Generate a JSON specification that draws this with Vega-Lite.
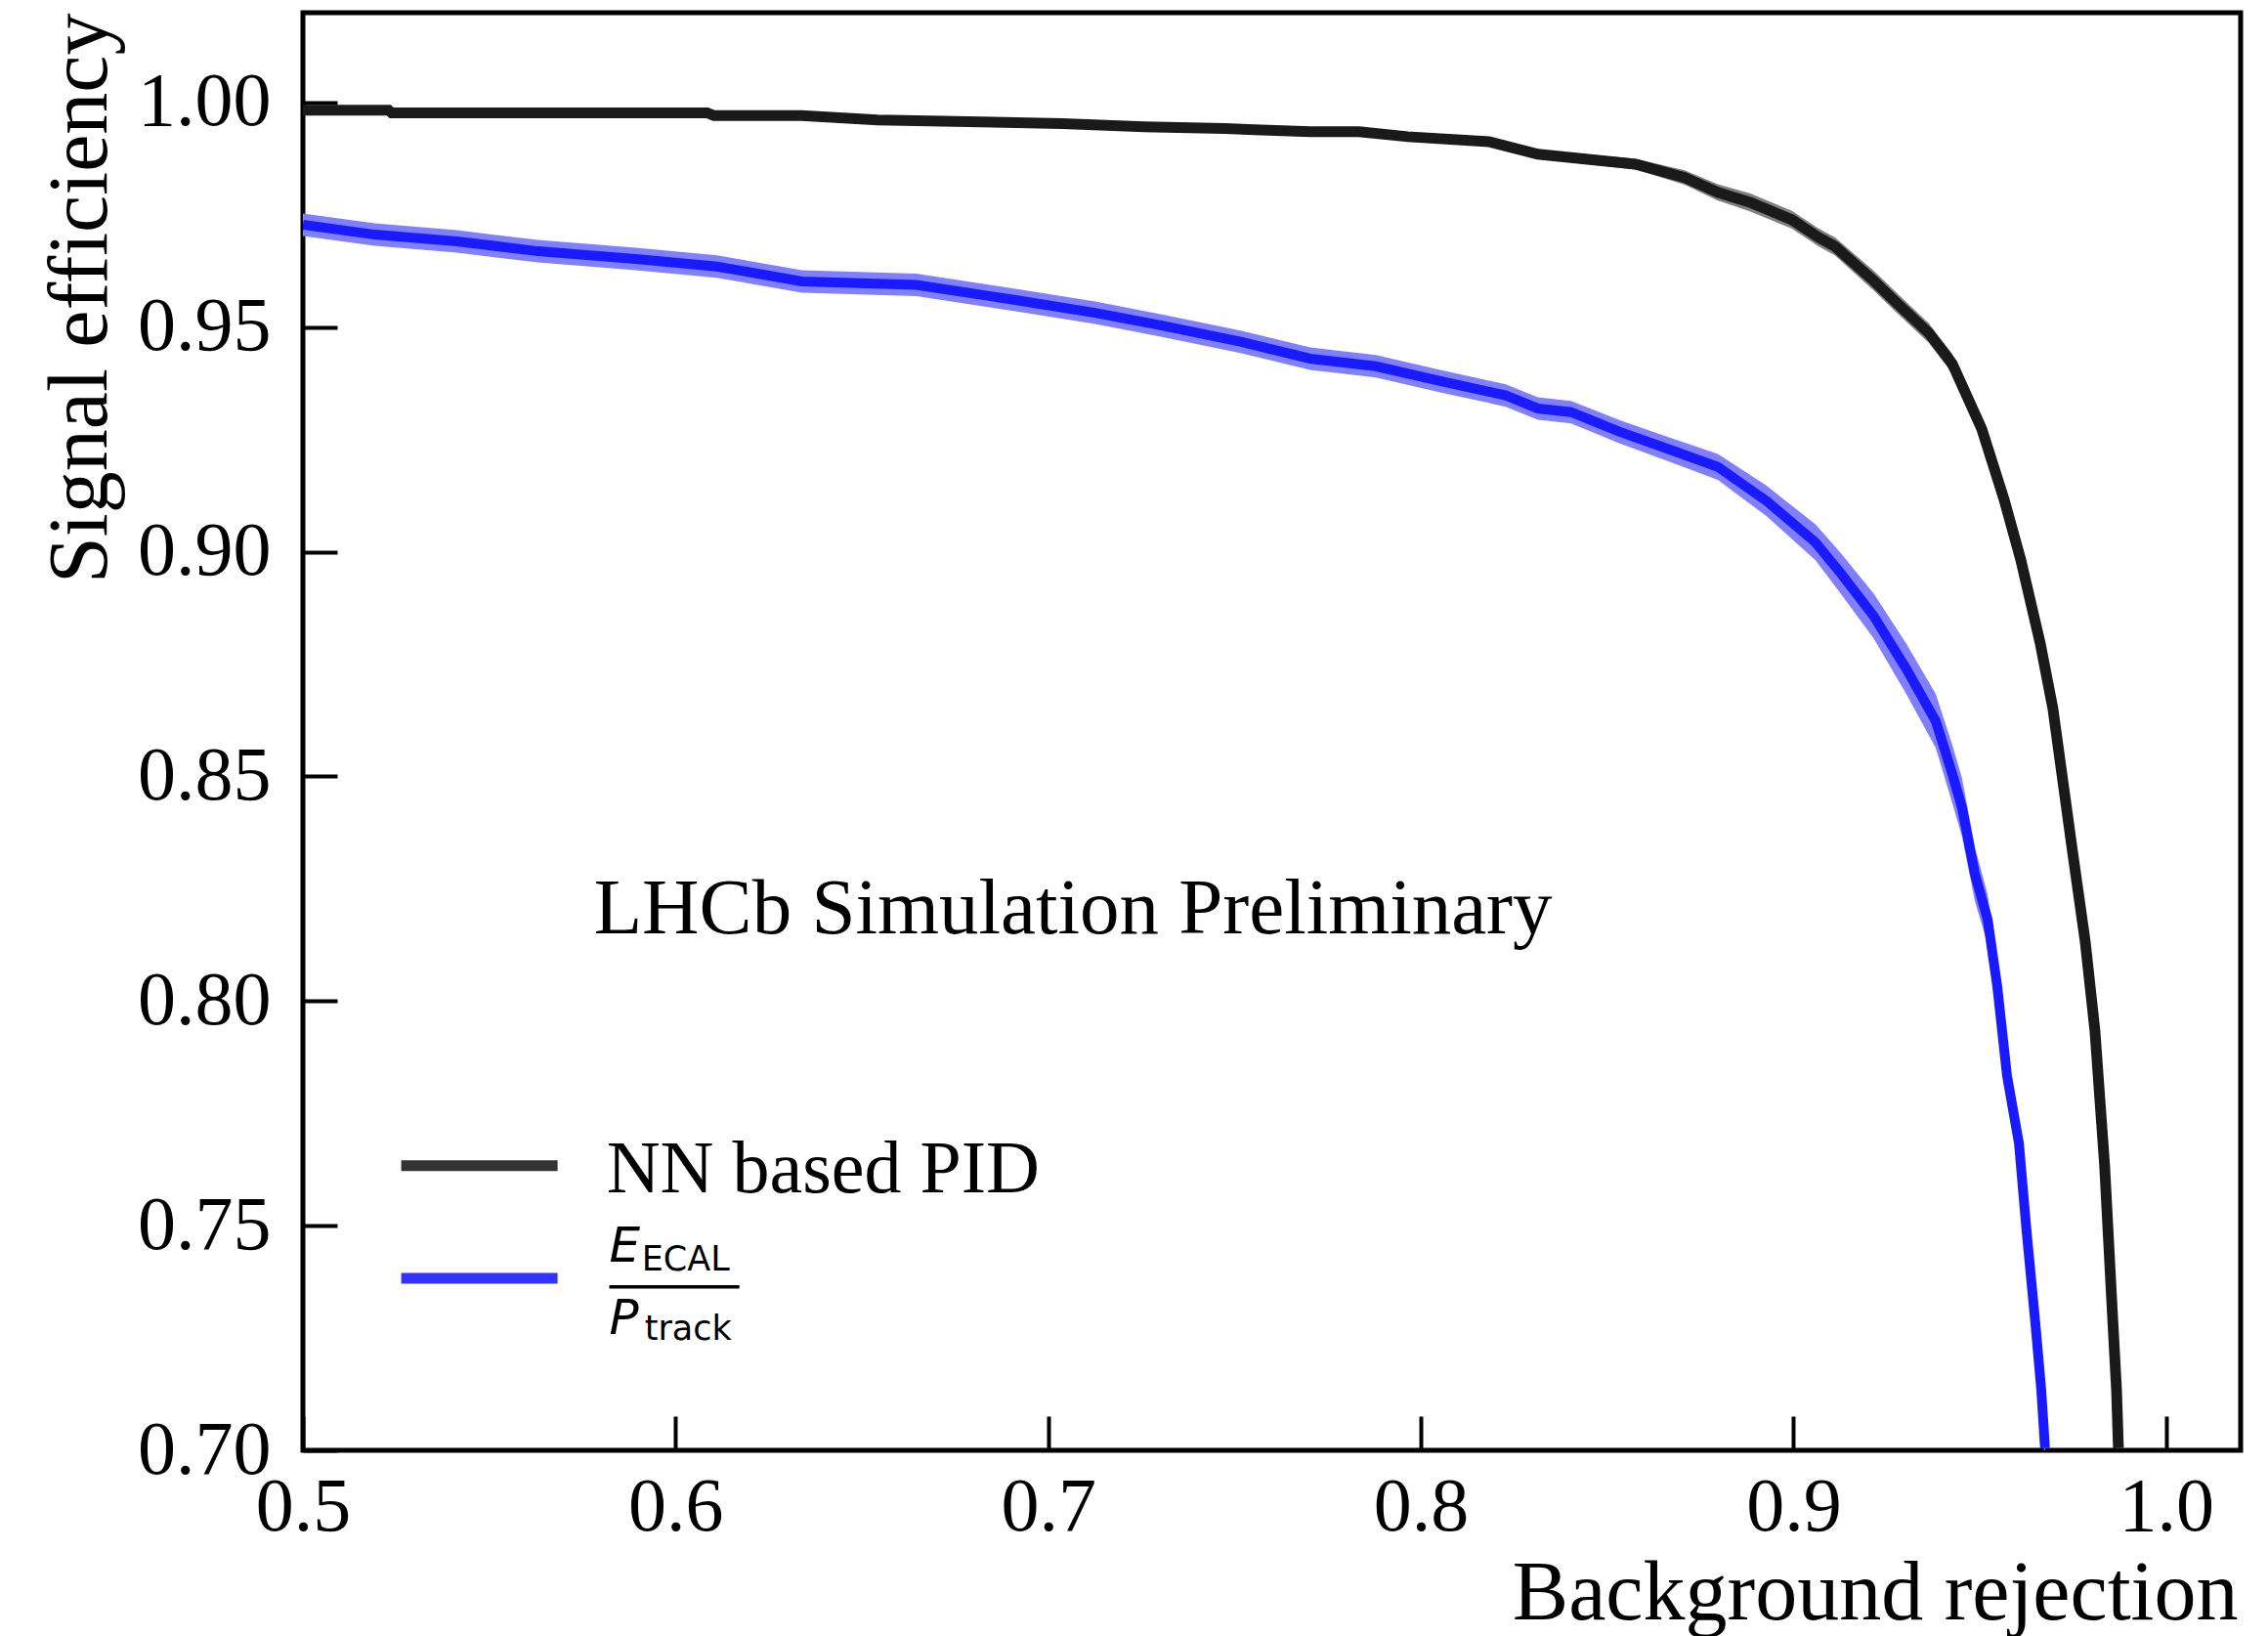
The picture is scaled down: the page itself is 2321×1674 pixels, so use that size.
{
  "$schema": "https://vega.github.io/schema/vega-lite/v6.json",
  "width": 1983,
  "height": 1471,
  "autosize": {"type": "none"},
  "padding": {"left": 310, "top": 13, "right": 28, "bottom": 190},
  "background": "white",
  "config": {
    "view": {"stroke": "black", "strokeWidth": 5},
    "axis": {
      "tickSize": -35, "tickWidth": 4, "tickColor": "black",
      "domain": false, "grid": false,
      "labelFont": "Liberation Serif", "labelFontSize": 78, "labelColor": "black", "labelFontWeight": "normal",
      "titleFont": "Liberation Serif", "titleFontSize": 86, "titleFontWeight": "normal", "titleColor": "black",
      "labelFlush": false, "labelOverlap": false, "labelBound": false
    }
  },
  "datasets": {
    "curves": [
      {"method": "NN", "x": 0.5, "y": 0.9983, "lo": 0.9973, "hi": 0.9993},
      {"method": "NN", "x": 0.523, "y": 0.9983, "lo": 0.9973, "hi": 0.9993},
      {"method": "NN", "x": 0.5238, "y": 0.9977, "lo": 0.9967, "hi": 0.9987},
      {"method": "NN", "x": 0.6085, "y": 0.9977, "lo": 0.9967, "hi": 0.9987},
      {"method": "NN", "x": 0.6103, "y": 0.9971, "lo": 0.9961, "hi": 0.9981},
      {"method": "NN", "x": 0.6339, "y": 0.9971, "lo": 0.9961, "hi": 0.9981},
      {"method": "NN", "x": 0.6541, "y": 0.9961, "lo": 0.9951, "hi": 0.9971},
      {"method": "NN", "x": 0.6819, "y": 0.9957, "lo": 0.9947, "hi": 0.9967},
      {"method": "NN", "x": 0.7039, "y": 0.9953, "lo": 0.9943, "hi": 0.9963},
      {"method": "NN", "x": 0.7257, "y": 0.9946, "lo": 0.9936, "hi": 0.9956},
      {"method": "NN", "x": 0.7475, "y": 0.9942, "lo": 0.9932, "hi": 0.9952},
      {"method": "NN", "x": 0.7703, "y": 0.9935, "lo": 0.9925, "hi": 0.9945},
      {"method": "NN", "x": 0.7834, "y": 0.9935, "lo": 0.9925, "hi": 0.9945},
      {"method": "NN", "x": 0.7965, "y": 0.9924, "lo": 0.9914, "hi": 0.9934},
      {"method": "NN", "x": 0.8183, "y": 0.9913, "lo": 0.9903, "hi": 0.9923},
      {"method": "NN", "x": 0.8314, "y": 0.9885, "lo": 0.9875, "hi": 0.9895},
      {"method": "NN", "x": 0.8576, "y": 0.9863, "lo": 0.9851, "hi": 0.9875},
      {"method": "NN", "x": 0.8708, "y": 0.9833, "lo": 0.9817, "hi": 0.9849},
      {"method": "NN", "x": 0.8797, "y": 0.98, "lo": 0.9782, "hi": 0.9818},
      {"method": "NN", "x": 0.8883, "y": 0.9778, "lo": 0.9758, "hi": 0.9798},
      {"method": "NN", "x": 0.8996, "y": 0.9739, "lo": 0.9719, "hi": 0.9759},
      {"method": "NN", "x": 0.9067, "y": 0.97, "lo": 0.968, "hi": 0.972},
      {"method": "NN", "x": 0.9111, "y": 0.968, "lo": 0.966, "hi": 0.97},
      {"method": "NN", "x": 0.9216, "y": 0.9603, "lo": 0.9581, "hi": 0.9625},
      {"method": "NN", "x": 0.9277, "y": 0.9554, "lo": 0.9532, "hi": 0.9576},
      {"method": "NN", "x": 0.9363, "y": 0.9487, "lo": 0.9465, "hi": 0.9509},
      {"method": "NN", "x": 0.9426, "y": 0.9419, "lo": 0.9397, "hi": 0.9441},
      {"method": "NN", "x": 0.9505, "y": 0.9274, "lo": 0.9252, "hi": 0.9296},
      {"method": "NN", "x": 0.9565, "y": 0.9117, "lo": 0.9097, "hi": 0.9137},
      {"method": "NN", "x": 0.961, "y": 0.8982, "lo": 0.8962, "hi": 0.9002},
      {"method": "NN", "x": 0.9662, "y": 0.8797, "lo": 0.8777, "hi": 0.8817},
      {"method": "NN", "x": 0.9696, "y": 0.8652, "lo": 0.8632, "hi": 0.8672},
      {"method": "NN", "x": 0.9723, "y": 0.8489, "lo": 0.8469, "hi": 0.8509},
      {"method": "NN", "x": 0.9749, "y": 0.8332, "lo": 0.8312, "hi": 0.8352},
      {"method": "NN", "x": 0.9783, "y": 0.8132, "lo": 0.8112, "hi": 0.8152},
      {"method": "NN", "x": 0.9809, "y": 0.7934, "lo": 0.7914, "hi": 0.7954},
      {"method": "NN", "x": 0.9835, "y": 0.7634, "lo": 0.7614, "hi": 0.7654},
      {"method": "NN", "x": 0.9854, "y": 0.7334, "lo": 0.7314, "hi": 0.7354},
      {"method": "NN", "x": 0.9867, "y": 0.7134, "lo": 0.7114, "hi": 0.7154},
      {"method": "NN", "x": 0.9872, "y": 0.7005, "lo": 0.6985, "hi": 0.7025},
      {"method": "ECAL", "x": 0.5, "y": 0.9728, "lo": 0.9703, "hi": 0.9753},
      {"method": "ECAL", "x": 0.5193, "y": 0.9706, "lo": 0.9681, "hi": 0.9731},
      {"method": "ECAL", "x": 0.5413, "y": 0.9691, "lo": 0.9666, "hi": 0.9716},
      {"method": "ECAL", "x": 0.5631, "y": 0.9669, "lo": 0.9644, "hi": 0.9694},
      {"method": "ECAL", "x": 0.5893, "y": 0.9652, "lo": 0.9627, "hi": 0.9677},
      {"method": "ECAL", "x": 0.6111, "y": 0.9635, "lo": 0.961, "hi": 0.966},
      {"method": "ECAL", "x": 0.6339, "y": 0.9602, "lo": 0.9577, "hi": 0.9627},
      {"method": "ECAL", "x": 0.6646, "y": 0.9594, "lo": 0.9569, "hi": 0.9619},
      {"method": "ECAL", "x": 0.6908, "y": 0.9561, "lo": 0.9536, "hi": 0.9586},
      {"method": "ECAL", "x": 0.7126, "y": 0.9532, "lo": 0.9507, "hi": 0.9557},
      {"method": "ECAL", "x": 0.7302, "y": 0.9504, "lo": 0.9479, "hi": 0.9529},
      {"method": "ECAL", "x": 0.7519, "y": 0.9467, "lo": 0.9442, "hi": 0.9492},
      {"method": "ECAL", "x": 0.7703, "y": 0.943, "lo": 0.9405, "hi": 0.9455},
      {"method": "ECAL", "x": 0.7879, "y": 0.9413, "lo": 0.9388, "hi": 0.9438},
      {"method": "ECAL", "x": 0.8052, "y": 0.938, "lo": 0.9355, "hi": 0.9405},
      {"method": "ECAL", "x": 0.8228, "y": 0.9348, "lo": 0.9323, "hi": 0.9373},
      {"method": "ECAL", "x": 0.8314, "y": 0.9319, "lo": 0.9294, "hi": 0.9344},
      {"method": "ECAL", "x": 0.8403, "y": 0.9311, "lo": 0.9286, "hi": 0.9336},
      {"method": "ECAL", "x": 0.8534, "y": 0.9267, "lo": 0.9241, "hi": 0.9293},
      {"method": "ECAL", "x": 0.8666, "y": 0.9228, "lo": 0.9201, "hi": 0.9255},
      {"method": "ECAL", "x": 0.8797, "y": 0.9189, "lo": 0.916, "hi": 0.9218},
      {"method": "ECAL", "x": 0.8928, "y": 0.9113, "lo": 0.9079, "hi": 0.9147},
      {"method": "ECAL", "x": 0.9059, "y": 0.9021, "lo": 0.8981, "hi": 0.9061},
      {"method": "ECAL", "x": 0.9127, "y": 0.8952, "lo": 0.8907, "hi": 0.8997},
      {"method": "ECAL", "x": 0.9216, "y": 0.8856, "lo": 0.8806, "hi": 0.8906},
      {"method": "ECAL", "x": 0.9303, "y": 0.8739, "lo": 0.8683, "hi": 0.8795},
      {"method": "ECAL", "x": 0.9382, "y": 0.8623, "lo": 0.8563, "hi": 0.8683},
      {"method": "ECAL", "x": 0.9426, "y": 0.8506, "lo": 0.8441, "hi": 0.8571},
      {"method": "ECAL", "x": 0.9452, "y": 0.8432, "lo": 0.8367, "hi": 0.8497},
      {"method": "ECAL", "x": 0.9487, "y": 0.8282, "lo": 0.8222, "hi": 0.8342},
      {"method": "ECAL", "x": 0.9521, "y": 0.8182, "lo": 0.8127, "hi": 0.8237},
      {"method": "ECAL", "x": 0.9547, "y": 0.8032, "lo": 0.7982, "hi": 0.8082},
      {"method": "ECAL", "x": 0.9573, "y": 0.7834, "lo": 0.7789, "hi": 0.7879},
      {"method": "ECAL", "x": 0.9605, "y": 0.7684, "lo": 0.7644, "hi": 0.7724},
      {"method": "ECAL", "x": 0.9626, "y": 0.7484, "lo": 0.7444, "hi": 0.7524},
      {"method": "ECAL", "x": 0.9649, "y": 0.7284, "lo": 0.7244, "hi": 0.7324},
      {"method": "ECAL", "x": 0.9665, "y": 0.7134, "lo": 0.7094, "hi": 0.7174},
      {"method": "ECAL", "x": 0.9675, "y": 0.7005, "lo": 0.6965, "hi": 0.7045}
    ]
  },
  "layer": [
    {
      "data": {"name": "curves"},
      "transform": [{"filter": "datum.method === 'NN'"}],
      "mark": {"type": "area", "color": "#808080", "opacity": 1, "clip": true},
      "encoding": {
        "x": {"field": "x", "type": "quantitative",
              "scale": {"domain": [0.5, 1.02], "nice": false, "zero": false},
              "axis": {"title": "Background rejection", "values": [0.5, 0.6, 0.7, 0.8, 0.9, 1.0], "format": ".1f",
                       "labelPadding": 54, "titleX": 1980, "titleY": 172, "titleAlign": "right",
                       "titleBaseline": "alphabetic", "titleAngle": 0}},
        "y": {"field": "hi", "type": "quantitative",
              "scale": {"domain": [0.7, 1.02], "nice": false, "zero": false},
              "axis": {"title": "Signal efficiency", "values": [0.7, 0.75, 0.8, 0.85, 0.9, 0.95, 1.0], "format": ".2f",
                       "labelPadding": 68, "titleX": -202, "titleY": 0, "titleAlign": "right",
                       "titleAngle": -90, "titleBaseline": "alphabetic"}},
        "y2": {"field": "lo"}
      }
    },
    {
      "data": {"name": "curves"},
      "transform": [{"filter": "datum.method === 'ECAL'"}],
      "mark": {"type": "area", "color": "#8080ff", "opacity": 1, "clip": true},
      "encoding": {
        "x": {"field": "x", "type": "quantitative"},
        "y": {"field": "hi", "type": "quantitative"},
        "y2": {"field": "lo"}
      }
    },
    {
      "data": {"name": "curves"},
      "transform": [{"filter": "datum.method === 'ECAL'"}],
      "mark": {"type": "line", "color": "#1a1aff", "strokeWidth": 10, "clip": true},
      "encoding": {
        "x": {"field": "x", "type": "quantitative"},
        "y": {"field": "y", "type": "quantitative"}
      }
    },
    {
      "data": {"name": "curves"},
      "transform": [{"filter": "datum.method === 'NN'"}],
      "mark": {"type": "line", "color": "#1a1a1a", "strokeWidth": 11, "clip": true},
      "encoding": {
        "x": {"field": "x", "type": "quantitative"},
        "y": {"field": "y", "type": "quantitative"}
      }
    },
    {
      "data": {"values": [{"label": "LHCb Simulation Preliminary"}]},
      "mark": {"type": "text", "font": "Liberation Serif", "fontSize": 81, "align": "left", "baseline": "alphabetic", "color": "black"},
      "encoding": {
        "x": {"datum": 0.57805},
        "y": {"datum": 0.81514},
        "text": {"field": "label"}
      }
    },
    {
      "data": {"values": [{"series": "NN based PID"}]},
      "mark": {"type": "rule", "color": "#333333", "strokeWidth": 11},
      "encoding": {
        "x": {"datum": 0.52638},
        "x2": {"datum": 0.56834},
        "y": {"datum": 0.76338}
      }
    },
    {
      "data": {"values": [{"series": "E_ECAL/P_track"}]},
      "mark": {"type": "rule", "color": "#3333ff", "strokeWidth": 11},
      "encoding": {
        "x": {"datum": 0.52638},
        "x2": {"datum": 0.56834},
        "y": {"datum": 0.73826}
      }
    },
    {
      "data": {"values": [{"label": "NN based PID"}]},
      "mark": {"type": "text", "font": "Liberation Serif", "fontSize": 76, "align": "left", "baseline": "alphabetic", "color": "black"},
      "encoding": {
        "x": {"datum": 0.58146},
        "y": {"datum": 0.7575},
        "text": {"field": "label"}
      }
    },
    {
      "data": {"values": [{"label": "E"}]},
      "mark": {"type": "text", "font": "DejaVu Sans", "fontStyle": "italic", "fontSize": 50, "align": "left", "baseline": "alphabetic", "color": "black"},
      "encoding": {
        "x": {"datum": 0.58222},
        "y": {"datum": 0.74191},
        "text": {"field": "label"}
      }
    },
    {
      "data": {"values": [{"label": "ECAL"}]},
      "mark": {"type": "text", "font": "DejaVu Sans", "fontSize": 35, "align": "left", "baseline": "alphabetic", "color": "black"},
      "encoding": {
        "x": {"datum": 0.5909},
        "y": {"datum": 0.74011},
        "text": {"field": "label"}
      }
    },
    {
      "data": {"values": [{"label": "fraction bar"}]},
      "mark": {"type": "rule", "color": "black", "strokeWidth": 3.5},
      "encoding": {
        "x": {"datum": 0.58222},
        "x2": {"datum": 0.61713},
        "y": {"datum": 0.73641}
      }
    },
    {
      "data": {"values": [{"label": "P"}]},
      "mark": {"type": "text", "font": "DejaVu Sans", "fontStyle": "italic", "fontSize": 50, "align": "left", "baseline": "alphabetic", "color": "black"},
      "encoding": {
        "x": {"datum": 0.58222},
        "y": {"datum": 0.72597},
        "text": {"field": "label"}
      }
    },
    {
      "data": {"values": [{"label": "track"}]},
      "mark": {"type": "text", "font": "DejaVu Sans", "fontSize": 35, "align": "left", "baseline": "alphabetic", "color": "black"},
      "encoding": {
        "x": {"datum": 0.59169},
        "y": {"datum": 0.72466},
        "text": {"field": "label"}
      }
    }
  ]
}
